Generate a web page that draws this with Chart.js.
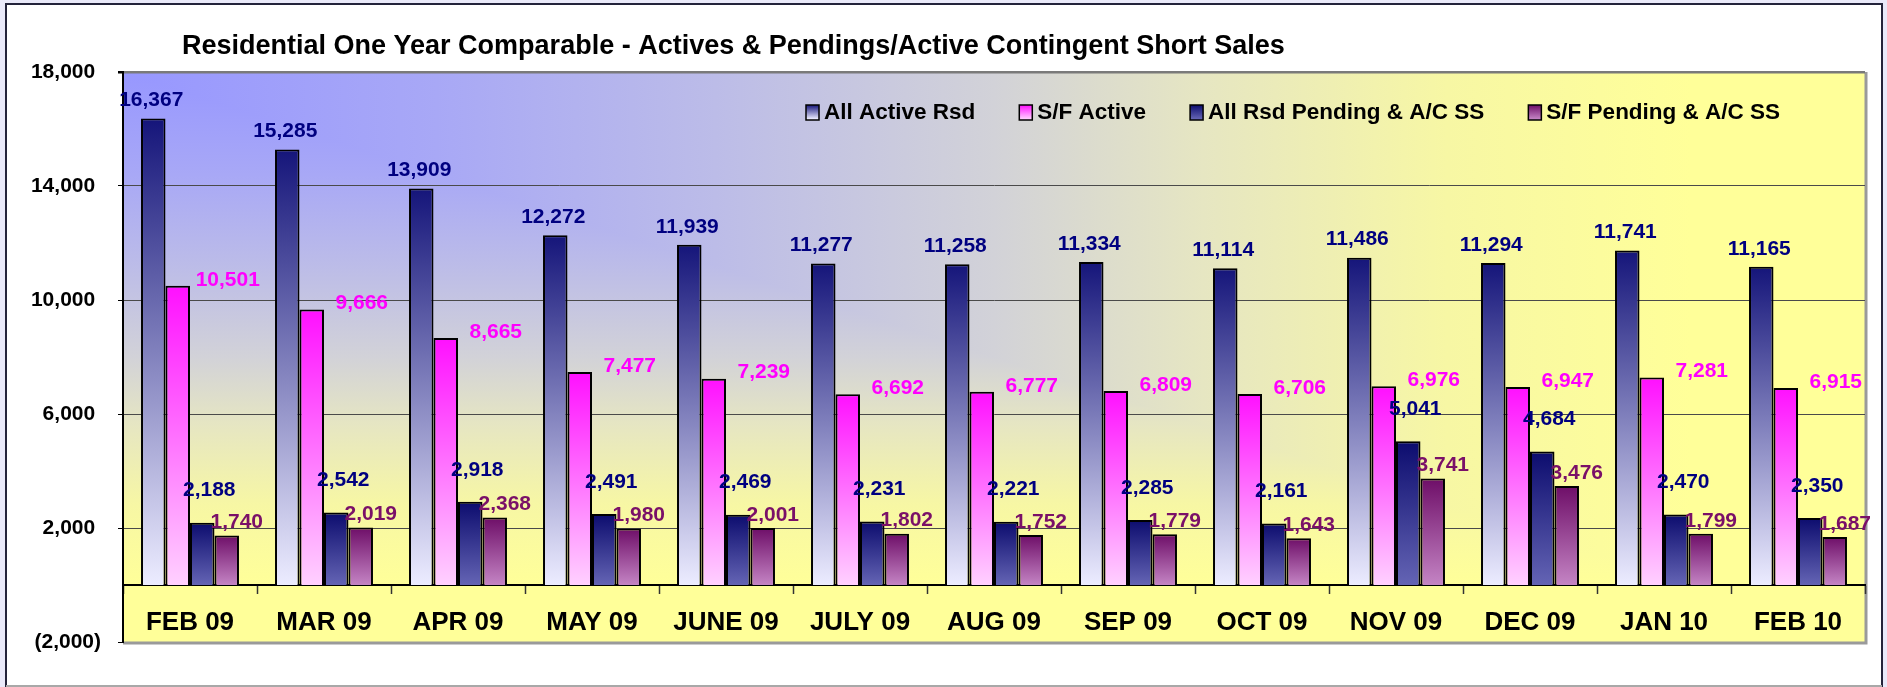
<!DOCTYPE html>
<html><head><meta charset="utf-8">
<script src="https://cdn.jsdelivr.net/npm/chart.js@4.4.1/dist/chart.umd.min.js"></script>
<style>html,body{margin:0;padding:0;background:#e9e9f9;}canvas{display:block}</style>
</head><body>
<canvas id="c" width="1887" height="687"></canvas>
<script>
// ---- data ----
const chartTitle = 'Residential One Year Comparable - Actives & Pendings/Active Contingent Short Sales';
const months = ['FEB 09','MAR 09','APR 09','MAY 09','JUNE 09','JULY 09','AUG 09','SEP 09','OCT 09','NOV 09','DEC 09','JAN 10','FEB 10'];
const seriesNames = ['All Active Rsd','S/F Active','All Rsd Pending & A/C SS','S/F Pending & A/C SS'];
const allActiveRsd = [16367,15285,13909,12272,11939,11277,11258,11334,11114,11486,11294,11741,11165];
const sfActive = [10501,9666,8665,7477,7239,6692,6777,6809,6706,6976,6947,7281,6915];
const allRsdPending = [2188,2542,2918,2491,2469,2231,2221,2285,2161,5041,4684,2470,2350];
const sfPending = [1740,2019,2368,1980,2001,1802,1752,1779,1643,3741,3476,1799,1687];
const yTickValues = [-2000,2000,6000,10000,14000,18000];

// ---- styles ----
const FONT = '"Liberation Sans", Arial, Helvetica, sans-serif';
Chart.defaults.font.family = FONT;
const seriesStyle = [
  {top:'#15157a', bottom:'#ececff', label:'#000080', dx:-2, dy:-18},
  {top:'#ff10ff', bottom:'#ffd0ff', label:'#ff00ff', dx:50, dy:-6},
  {top:'#0c0c6e', bottom:'#6464b4', label:'#000080', dx:7, dy:-32},
  {top:'#6e0e68', bottom:'#c484c4', label:'#7a1068', dx:10, dy:-13}
];
const bgStops = [[0,'#9797ff'],[0.18,'#a8a8f6'],[0.34,'#bcbce8'],[0.5,'#d2d2d8'],[0.62,'#e6e6c2'],[0.76,'#f7f7a4'],[0.9,'#ffff99'],[1,'#ffff99']];

const fmt = v => v.toLocaleString('en-US');
const fmtAxis = v => v < 0 ? '(' + fmt(-v) + ')' : fmt(v) + ' ';

function barGradient(st) {
  return (c) => {
    if (c.type !== 'data') return st.top;
    const chart = c.chart;
    const ys = chart.scales && chart.scales.y;
    if (!chart.chartArea || !ys) return st.top;
    const yTop = ys.getPixelForValue(c.raw);
    const yBase = ys.getPixelForValue(0);
    if (!isFinite(yTop) || !isFinite(yBase) || yTop === yBase) return st.top;
    const g = chart.ctx.createLinearGradient(0, yTop, 0, yBase);
    g.addColorStop(0, st.top);
    g.addColorStop(1, st.bottom);
    return g;
  };
}

const seriesData = [allActiveRsd, sfActive, allRsdPending, sfPending];
const datasets = seriesData.map((d, i) => ({
  label: seriesNames[i],
  data: d,
  backgroundColor: barGradient(seriesStyle[i]),
  borderColor: '#000',
  borderWidth: 2,
  borderSkipped: 'bottom',
  categoryPercentage: 0.731,
  barPercentage: 1.0
}));

const backgroundPlugin = {
  id: 'bg',
  beforeDraw(chart) {
    const {ctx, chartArea: a, width, height} = chart;
    ctx.save();
    ctx.fillStyle = '#e9e9f9';
    ctx.fillRect(0, 0, width, height);
    ctx.fillStyle = '#ffffff';
    ctx.fillRect(6, 4, 1876, 683);
    ctx.strokeStyle = '#23233a';
    ctx.lineWidth = 2;
    ctx.beginPath();
    ctx.moveTo(6, 687); ctx.lineTo(6, 4); ctx.lineTo(1882, 4); ctx.lineTo(1882, 687);
    ctx.stroke();
    ctx.strokeStyle = '#a8a8a8';
    ctx.beginPath(); ctx.moveTo(6, 686); ctx.lineTo(1882, 686); ctx.stroke();
    const L = a.left, T = a.top, R = a.right, B = a.bottom;
    const gh = ctx.createLinearGradient(L, 0, R, 0);
    const gv = ctx.createLinearGradient(0, T, 0, B);
    bgStops.forEach(([o, c]) => { gh.addColorStop(o, c); gv.addColorStop(o, c); });
    ctx.fillStyle = gv;
    ctx.fillRect(L, T, R - L, B - T);
    ctx.fillStyle = gh;
    ctx.beginPath(); ctx.moveTo(L, T); ctx.lineTo(R, T); ctx.lineTo(R, B); ctx.closePath(); ctx.fill();
    ctx.strokeStyle = '#9a9a9a';
    ctx.lineWidth = 3;
    ctx.beginPath(); ctx.moveTo(R + 1, T); ctx.lineTo(R + 1, B + 1); ctx.lineTo(L, B + 1); ctx.stroke();
    ctx.fillStyle = '#000';
    ctx.font = 'bold 27px ' + FONT;
    ctx.textAlign = 'left';
    ctx.textBaseline = 'alphabetic';
    ctx.fillText(chartTitle, L + 59, 54);
    ctx.restore();
  }
};

const labelPlugin = {
  id: 'valueLabels',
  afterDatasetsDraw(chart) {
    const ctx = chart.ctx;
    ctx.save();
    ctx.font = 'bold 21px ' + FONT;
    ctx.textAlign = 'center';
    ctx.textBaseline = 'middle';
    chart.data.datasets.forEach((ds, i) => {
      const st = seriesStyle[i];
      const meta = chart.getDatasetMeta(i);
      ctx.fillStyle = st.label;
      meta.data.forEach((bar, j) => {
        ctx.fillText(fmt(ds.data[j]), bar.x + st.dx, bar.y + st.dy);
      });
    });
    ctx.restore();
  }
};

const legendPlugin = {
  id: 'insideLegend',
  afterDraw(chart) {
    const ctx = chart.ctx, a = chart.chartArea;
    ctx.save();
    ctx.font = 'bold 22.5px ' + FONT;
    ctx.textBaseline = 'middle';
    ctx.textAlign = 'left';
    let x = a.left + 683;
    const yc = a.top + 40;
    chart.data.datasets.forEach((ds, i) => {
      const st = seriesStyle[i];
      const g = ctx.createLinearGradient(0, yc - 7, 0, yc + 7);
      g.addColorStop(0, st.top); g.addColorStop(1, st.bottom);
      ctx.fillStyle = g;
      ctx.fillRect(x, yc - 7, 13, 15);
      ctx.strokeStyle = '#000'; ctx.lineWidth = 1.5;
      ctx.strokeRect(x, yc - 7, 13, 15);
      ctx.fillStyle = '#000';
      ctx.fillText(ds.label, x + 18, yc + 1);
      x += 18 + ctx.measureText(ds.label).width + 44;
    });
    ctx.restore();
  }
};

new Chart(document.getElementById('c'), {
  type: 'bar',
  data: { labels: months, datasets },
  options: {
    responsive: false,
    devicePixelRatio: 1,
    animation: false,
    layout: { padding: { top: 72, right: 22, bottom: 45, left: 0 } },
    plugins: { legend: { display: false }, title: { display: false }, tooltip: { enabled: false } },
    scales: {
      x: {
        position: { y: 0 },
        offset: true,
        border: { display: true, color: '#000', width: 2 },
        grid: { offset: true, drawOnChartArea: false, drawTicks: true, tickLength: 8, tickColor: '#333', tickWidth: 1.5 },
        ticks: { color: '#000', padding: 14, maxRotation: 0, autoSkip: false, font: { size: 26, weight: 'bold' } }
      },
      y: {
        min: -2000, max: 18000,
        afterBuildTicks: s => { s.ticks = yTickValues.map(v => ({ value: v })); },
        afterFit: s => { s.width = 123; },
        border: { display: true, color: '#000', width: 2 },
        grid: {
          color: c => (c.tick && c.tick.value === 18000) ? '#7a7a7a' : ((c.tick && c.tick.value === -2000) ? 'rgba(0,0,0,0)' : '#4a4a4a'),
          lineWidth: c => (c.tick && c.tick.value === 18000) ? 2.5 : 1,
          tickColor: '#000', tickLength: 5, drawTicks: true
        },
        ticks: { padding: 17, color: '#000', font: { size: 21, weight: 'bold' }, callback: v => fmtAxis(v) }
      }
    }
  },
  plugins: [backgroundPlugin, labelPlugin, legendPlugin]
});
</script>
</body></html>
